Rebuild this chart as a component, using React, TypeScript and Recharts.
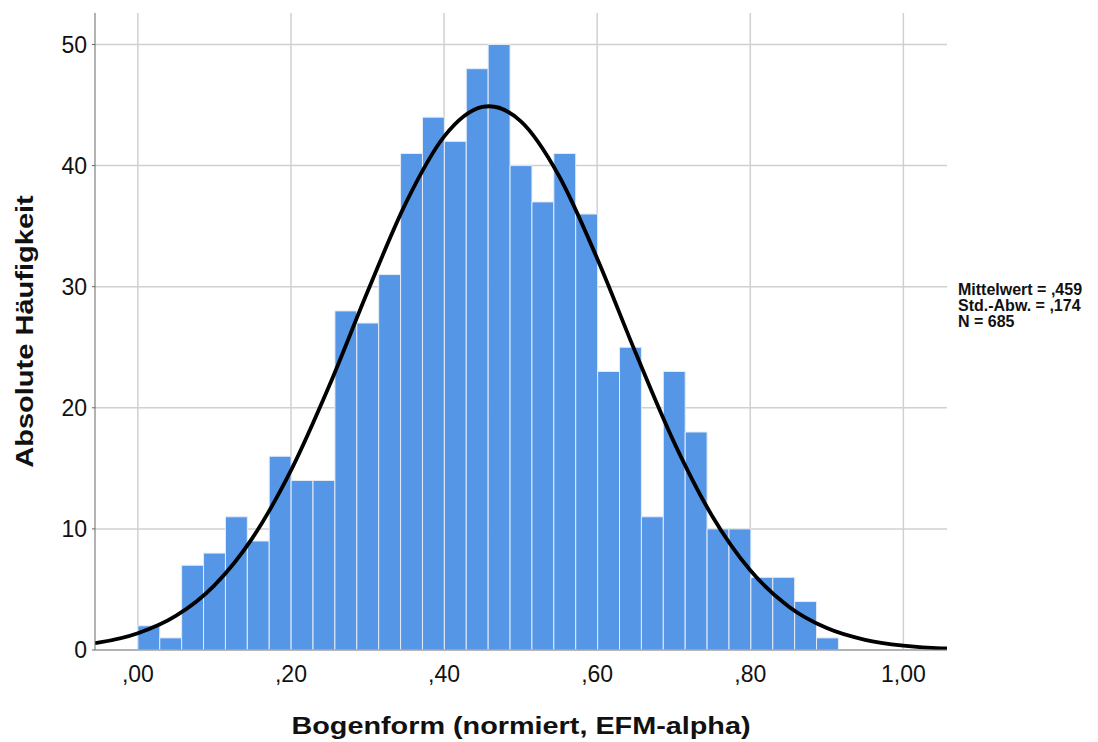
import React from 'react';
import { ComposedChart, Line, XAxis, YAxis, CartesianGrid, ReferenceArea } from 'recharts';

// histogram bins: left edge of the first bin and bin width
const binStart = 0;
const binWidth = 0.0286;
const counts = [2, 1, 7, 8, 11, 9, 16, 14, 14, 28, 27, 31, 41, 44, 42, 48, 50, 40, 37, 41, 36, 23, 25, 11, 23, 18, 10, 10, 6, 6, 4, 1];

// fitted normal curve
const curveX = [-0.056, -0.05, 0, 0.05, 0.1, 0.15, 0.2, 0.25, 0.3, 0.35, 0.4, 0.45, 0.459, 0.5, 0.55, 0.6, 0.65, 0.7, 0.75, 0.8, 0.85, 0.9, 0.95, 1.0, 1.05, 1.057];
const curveY = [0.56, 0.62, 1.38, 2.83, 5.34, 9.28, 14.83, 21.82, 29.58, 36.9, 42.39, 44.84, 44.9, 43.67, 39.16, 32.33, 24.58, 17.21, 11.09, 6.58, 3.6, 1.81, 0.84, 0.36, 0.14, 0.13];

const xTicks = [0, 0.2, 0.4, 0.6, 0.8, 1.0];
const yTicks = [0, 10, 20, 30, 40, 50];
const xTitle = 'Bogenform (normiert, EFM-alpha)';
const yTitle = 'Absolute Häufigkeit';
const stats = ['Mittelwert = ,459', 'Std.-Abw. = ,174', 'N = 685'];

const curve = curveX.map((x, i) => ({ x, y: curveY[i] }));
const fmtX = (v: number) => (v >= 1 ? v.toFixed(2).replace('.', ',') : ',' + v.toFixed(2).split('.')[1]);

const font = '"Liberation Sans", Arial, sans-serif';

// wide bold titles like the SPSS output
const XTitle = (props: any) => {
  const vb = props.viewBox || {};
  const cx = vb.x + vb.width / 2;
  const y = vb.y + vb.height - 8;
  return (
    <text transform={`translate(${cx},${y}) scale(1.2,1)`} textAnchor="middle" fontSize={24} fontWeight="bold" fill="#111" fontFamily={font}>
      {xTitle}
    </text>
  );
};

const YTitle = (props: any) => {
  const vb = props.viewBox || {};
  const cy = vb.y + vb.height / 2;
  return (
    <text transform={`translate(33,${cy}) rotate(-90) scale(1.21,1)`} textAnchor="middle" fontSize={24} fontWeight="bold" fill="#111" fontFamily={font}>
      {yTitle}
    </text>
  );
};

export default function App() {
  return (
    <div style={{ position: 'absolute', left: 0, top: 0, width: 1098, height: 742, background: '#fff', fontFamily: font }}>
      <ComposedChart width={1098} height={742} data={curve} margin={{ top: 13, right: 151, bottom: 0, left: 0 }}>
        <CartesianGrid stroke="#d0d0d0" strokeWidth={1.5} verticalValues={xTicks} horizontalValues={yTicks} />
        <XAxis
          dataKey="x"
          type="number"
          domain={[-0.056, 1.057]}
          ticks={xTicks}
          tickFormatter={fmtX}
          allowDataOverflow
          height={92}
          stroke="#888"
          tickLine={false}
          tick={{ fill: '#111', fontSize: 23, fontFamily: font }}
          tickMargin={10}
          label={<XTitle />}
        />
        <YAxis
          type="number"
          domain={[0, 52.6]}
          ticks={yTicks}
          allowDataOverflow
          width={95}
          stroke="#666"
          tickSize={3}
          tickMargin={5}
          tick={{ fill: '#111', fontSize: 23, fontFamily: font }}
          label={<YTitle />}
        />
        {counts.map((c, i) => (
          <ReferenceArea
            key={i}
            x1={binStart + i * binWidth}
            x2={binStart + (i + 1) * binWidth}
            y1={0}
            y2={c}
            fill="#5596e6"
            fillOpacity={1}
            stroke="#e4ecf7"
            strokeWidth={1}
          />
        ))}
        <Line type="monotone" dataKey="y" stroke="#000" strokeWidth={3.8} dot={false} isAnimationActive={false} />
      </ComposedChart>
      <div style={{ position: 'absolute', left: 958, top: 282, fontSize: 16, fontWeight: 'bold', lineHeight: '16px', color: '#111', whiteSpace: 'nowrap' }}>
        {stats.map((s) => (
          <div key={s}>{s}</div>
        ))}
      </div>
    </div>
  );
}
